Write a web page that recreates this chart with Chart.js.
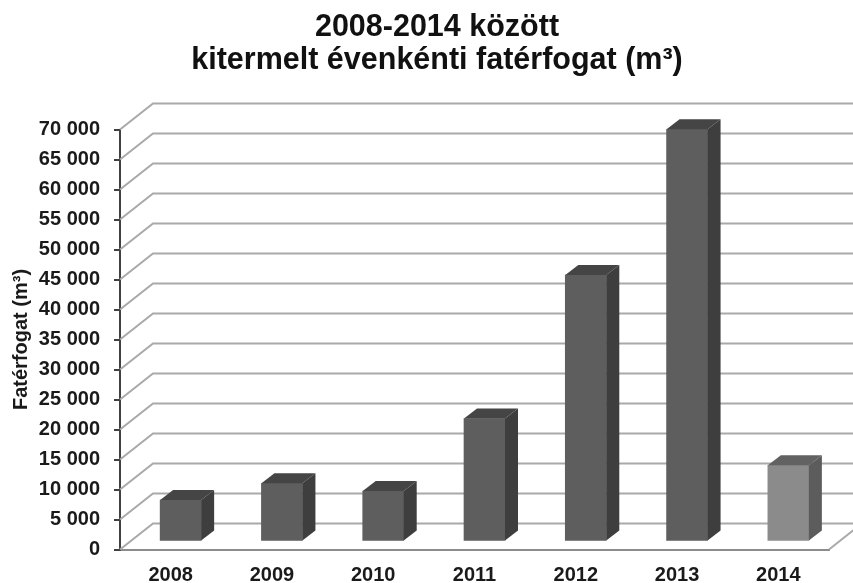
<!DOCTYPE html>
<html>
<head>
<meta charset="utf-8">
<title>Fatérfogat</title>
<script src="https://cdn.jsdelivr.net/npm/chart.js@4/dist/chart.umd.js"></script>
<style>
  html, body { margin: 0; padding: 0; background: #fff; }
  canvas { display: block; }
</style>
</head>
<body>
<canvas id="chart" width="853" height="583"></canvas>
<script>
const YEARS = ['2008', '2009', '2010', '2011', '2012', '2013', '2014'];
const VOLUMES = [6900, 9700, 8400, 20500, 44400, 68700, 12700];
const TITLE_LINES = ['2008-2014 között', 'kitermelt évenkénti fatérfogat (m³)'];
const Y_TITLE = 'Fatérfogat (m³)';
const Y_MAX = 70000;
const Y_STEP = 5000;

const FONT = '"Liberation Sans", Arial, sans-serif';
const TEXT = '#1a1a1a';
const GRID = '#a9a9a9';
const WALL_DX = 33, WALL_DY = -26;   // back wall offset
const BAR_DX = 10, BAR_DY = -8;      // bars stand a bit behind the front edge
const SIDE_DX = 13, SIDE_DY = -10;   // bar depth

const isLight = i => YEARS[i] === '2014';
const faceColor = i => isLight(i) ? '#8b8b8b' : '#5e5e5e';
const topColor = i => isLight(i) ? '#626262' : '#454545';
const sideColor = i => isLight(i) ? '#5c5c5c' : '#3e3e3e';

function poly(ctx, pts, fill) {
  ctx.beginPath();
  pts.forEach((p, i) => i ? ctx.lineTo(p[0], p[1]) : ctx.moveTo(p[0], p[1]));
  ctx.closePath();
  ctx.fillStyle = fill;
  ctx.fill();
}

// pseudo 3D: back wall lines under the bars, depth faces next to them
const box3d = {
  id: 'box3d',
  afterLayout(chart) {
    // title sits right of the canvas centre in the original
    chart.titleBlock.left = 21;
    chart.titleBlock.right = chart.width;
  },
  beforeDatasetsDraw(chart) {
    const { ctx, chartArea: a, scales: { y } } = chart;
    ctx.save();
    ctx.strokeStyle = GRID;
    ctx.lineWidth = 2;
    y.ticks.forEach(t => {
      const py = y.getPixelForValue(t.value);
      ctx.beginPath();
      ctx.moveTo(a.left, py);
      ctx.lineTo(a.left + WALL_DX, py + WALL_DY);
      ctx.lineTo(chart.width, py + WALL_DY);
      ctx.stroke();
    });
    const by = y.getPixelForValue(0);
    ctx.beginPath();
    ctx.moveTo(a.right, by);
    ctx.lineTo(a.right + WALL_DX, by + WALL_DY);
    ctx.stroke();
    ctx.restore();
  },
  beforeDatasetDraw(chart) {
    chart.ctx.save();
    chart.ctx.translate(BAR_DX, BAR_DY);
  },
  afterDatasetDraw(chart, args) {
    const ctx = chart.ctx;
    args.meta.data.forEach((bar, i) => {
      const p = bar.getProps(['x', 'y', 'base', 'width'], true);
      const l = p.x - p.width / 2, r = p.x + p.width / 2;
      poly(ctx, [[l, p.y], [l + SIDE_DX, p.y + SIDE_DY], [r + SIDE_DX, p.y + SIDE_DY], [r, p.y]], topColor(i));
      poly(ctx, [[r, p.y], [r + SIDE_DX, p.y + SIDE_DY], [r + SIDE_DX, p.base + SIDE_DY], [r, p.base]], sideColor(i));
    });
    ctx.restore();
  }
};

new Chart(document.getElementById('chart'), {
  type: 'bar',
  plugins: [box3d],
  data: {
    labels: YEARS,
    datasets: [{
      data: VOLUMES,
      backgroundColor: c => faceColor(c.dataIndex),
      borderWidth: 0,
      barThickness: 41,
      clip: false
    }]
  },
  options: {
    responsive: false,
    animation: false,
    layout: { padding: { left: 0, right: 24, top: 11, bottom: 0 } },
    plugins: {
      legend: { display: false },
      tooltip: { enabled: false },
      title: {
        display: true,
        text: TITLE_LINES,
        color: '#111',
        font: { family: FONT, size: 30.5, weight: 'bold', lineHeight: 1.082 },
        padding: { top: 0, bottom: 52.5 }
      }
    },
    scales: {
      x: {
        afterFit: s => { s.height = 33.5; },
        grid: { display: false },
        border: { color: '#8c8c8c', width: 2 },
        ticks: { color: TEXT, font: { family: FONT, size: 20, weight: 'bold' }, padding: 6, maxRotation: 0 }
      },
      y: {
        min: 0,
        max: Y_MAX,
        afterFit: s => { s.width = 120; },
        grid: { drawOnChartArea: false, color: '#404040', lineWidth: 2, tickLength: 6 },
        border: { color: '#404040', width: 2 },
        ticks: {
          stepSize: Y_STEP,
          color: TEXT,
          font: { family: FONT, size: 20, weight: 'bold' },
          padding: 14,
          callback: v => String(v).replace(/\B(?=(\d{3})+$)/g, ' ')
        },
        title: {
          display: true,
          text: Y_TITLE,
          color: TEXT,
          font: { family: FONT, size: 20, weight: 'bold' },
          padding: { top: 9, bottom: 0 }
        }
      }
    }
  }
});
</script>
</body>
</html>
